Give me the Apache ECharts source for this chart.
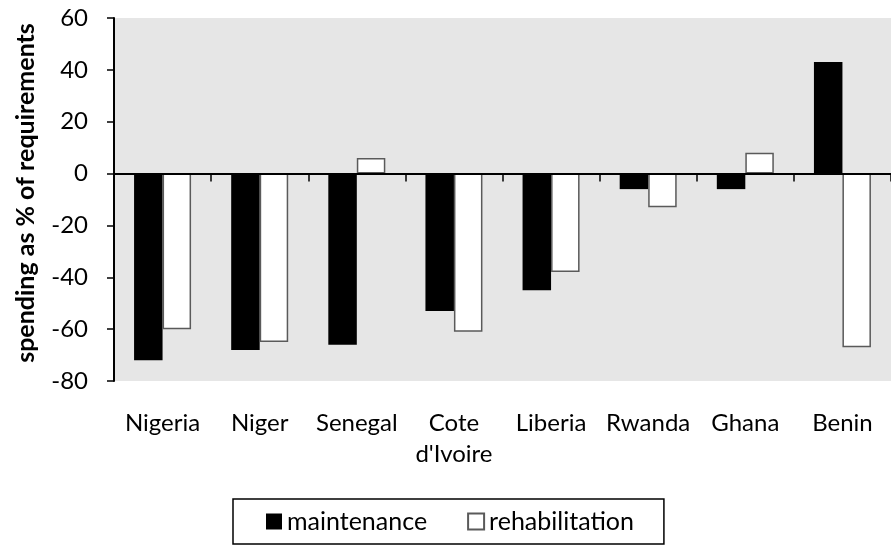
<!DOCTYPE html>
<html>
<head>
<meta charset="utf-8">
<script src="https://cdn.jsdelivr.net/npm/echarts@6/dist/echarts.min.js"></script>
<style>
  html, body { margin: 0; padding: 0; background: #fff; }
  #chart { width: 891px; height: 548px; }
</style>
</head>
<body>
<div id="chart"></div>
<script>
const countries = ['Nigeria', 'Niger', 'Senegal', 'Cote\nd\'Ivoire', 'Liberia', 'Rwanda', 'Ghana', 'Benin']
const maintenance = [-72, -68, -66, -53, -45, -6, -6, 43]
const rehabilitation = [-60, -65, 6, -61, -38, -13, 8, -67]
const yTicks = { min: -80, max: 60, step: 20 }

const FONT = 'Lato'
const chart = echarts.init(document.getElementById('chart'))

const option = {
  animation: false,
  textStyle: { fontFamily: FONT },
  grid: {
    left: 114, top: 18, width: 785, height: 363,
    show: true, backgroundColor: '#e6e6e6', borderWidth: 0
  },
  xAxis: [
    {
      // zero line + ticks between categories
      type: 'category',
      data: countries,
      z: 5,
      axisLine: { onZero: true, lineStyle: { color: '#000', width: 2 } },
      axisTick: { show: true, interval: 0, length: 8, lineStyle: { color: '#000', width: 1.5 } },
      axisLabel: { show: false },
      splitLine: { show: false }
    },
    {
      // category names along the bottom
      type: 'category',
      data: countries,
      position: 'bottom',
      axisLine: { show: false, onZero: false },
      axisTick: { show: false },
      axisLabel: { interval: 0, color: '#000', fontSize: 24, fontFamily: FONT, margin: 27, lineHeight: 31 },
      splitLine: { show: false }
    }
  ],
  yAxis: {
    type: 'value',
    min: yTicks.min, max: yTicks.max, interval: yTicks.step,
    axisLine: { show: true, lineStyle: { color: '#000', width: 2 } },
    axisTick: { show: true, length: 7, lineStyle: { color: '#000', width: 1.5 } },
    axisLabel: { color: '#000', fontSize: 24, fontFamily: FONT, margin: 26 },
    splitLine: { show: false }
  },
  legend: {
    left: 233, top: 499,
    padding: [10, 30, 10, 33],
    borderColor: '#000', borderWidth: 1.5,
    itemWidth: 16, itemHeight: 16, itemGap: 40,
    icon: 'rect',
    textStyle: { color: '#000', fontSize: 25, fontFamily: FONT },
    data: ['maintenance', 'rehabilitation']
  },
  graphic: [{
    type: 'text',
    x: 26, y: 193,
    rotation: Math.PI / 2,
    style: {
      text: 'spending as % of requirements',
      font: 'bold 25px ' + FONT,
      fill: '#000',
      textAlign: 'center',
      textVerticalAlign: 'middle'
    }
  }],
  series: [
    {
      name: 'maintenance',
      type: 'bar',
      xAxisIndex: 0,
      data: maintenance,
      barWidth: 28.5,
      barGap: '0%',
      itemStyle: { color: '#000' }
    },
    {
      name: 'rehabilitation',
      type: 'bar',
      xAxisIndex: 0,
      data: rehabilitation,
      barWidth: 28.5,
      barGap: '0%',
      itemStyle: { color: '#fff', borderColor: '#5a5a5a', borderWidth: 1.5 }
    }
  ]
}

chart.setOption(option)
</script>
</body>
</html>
